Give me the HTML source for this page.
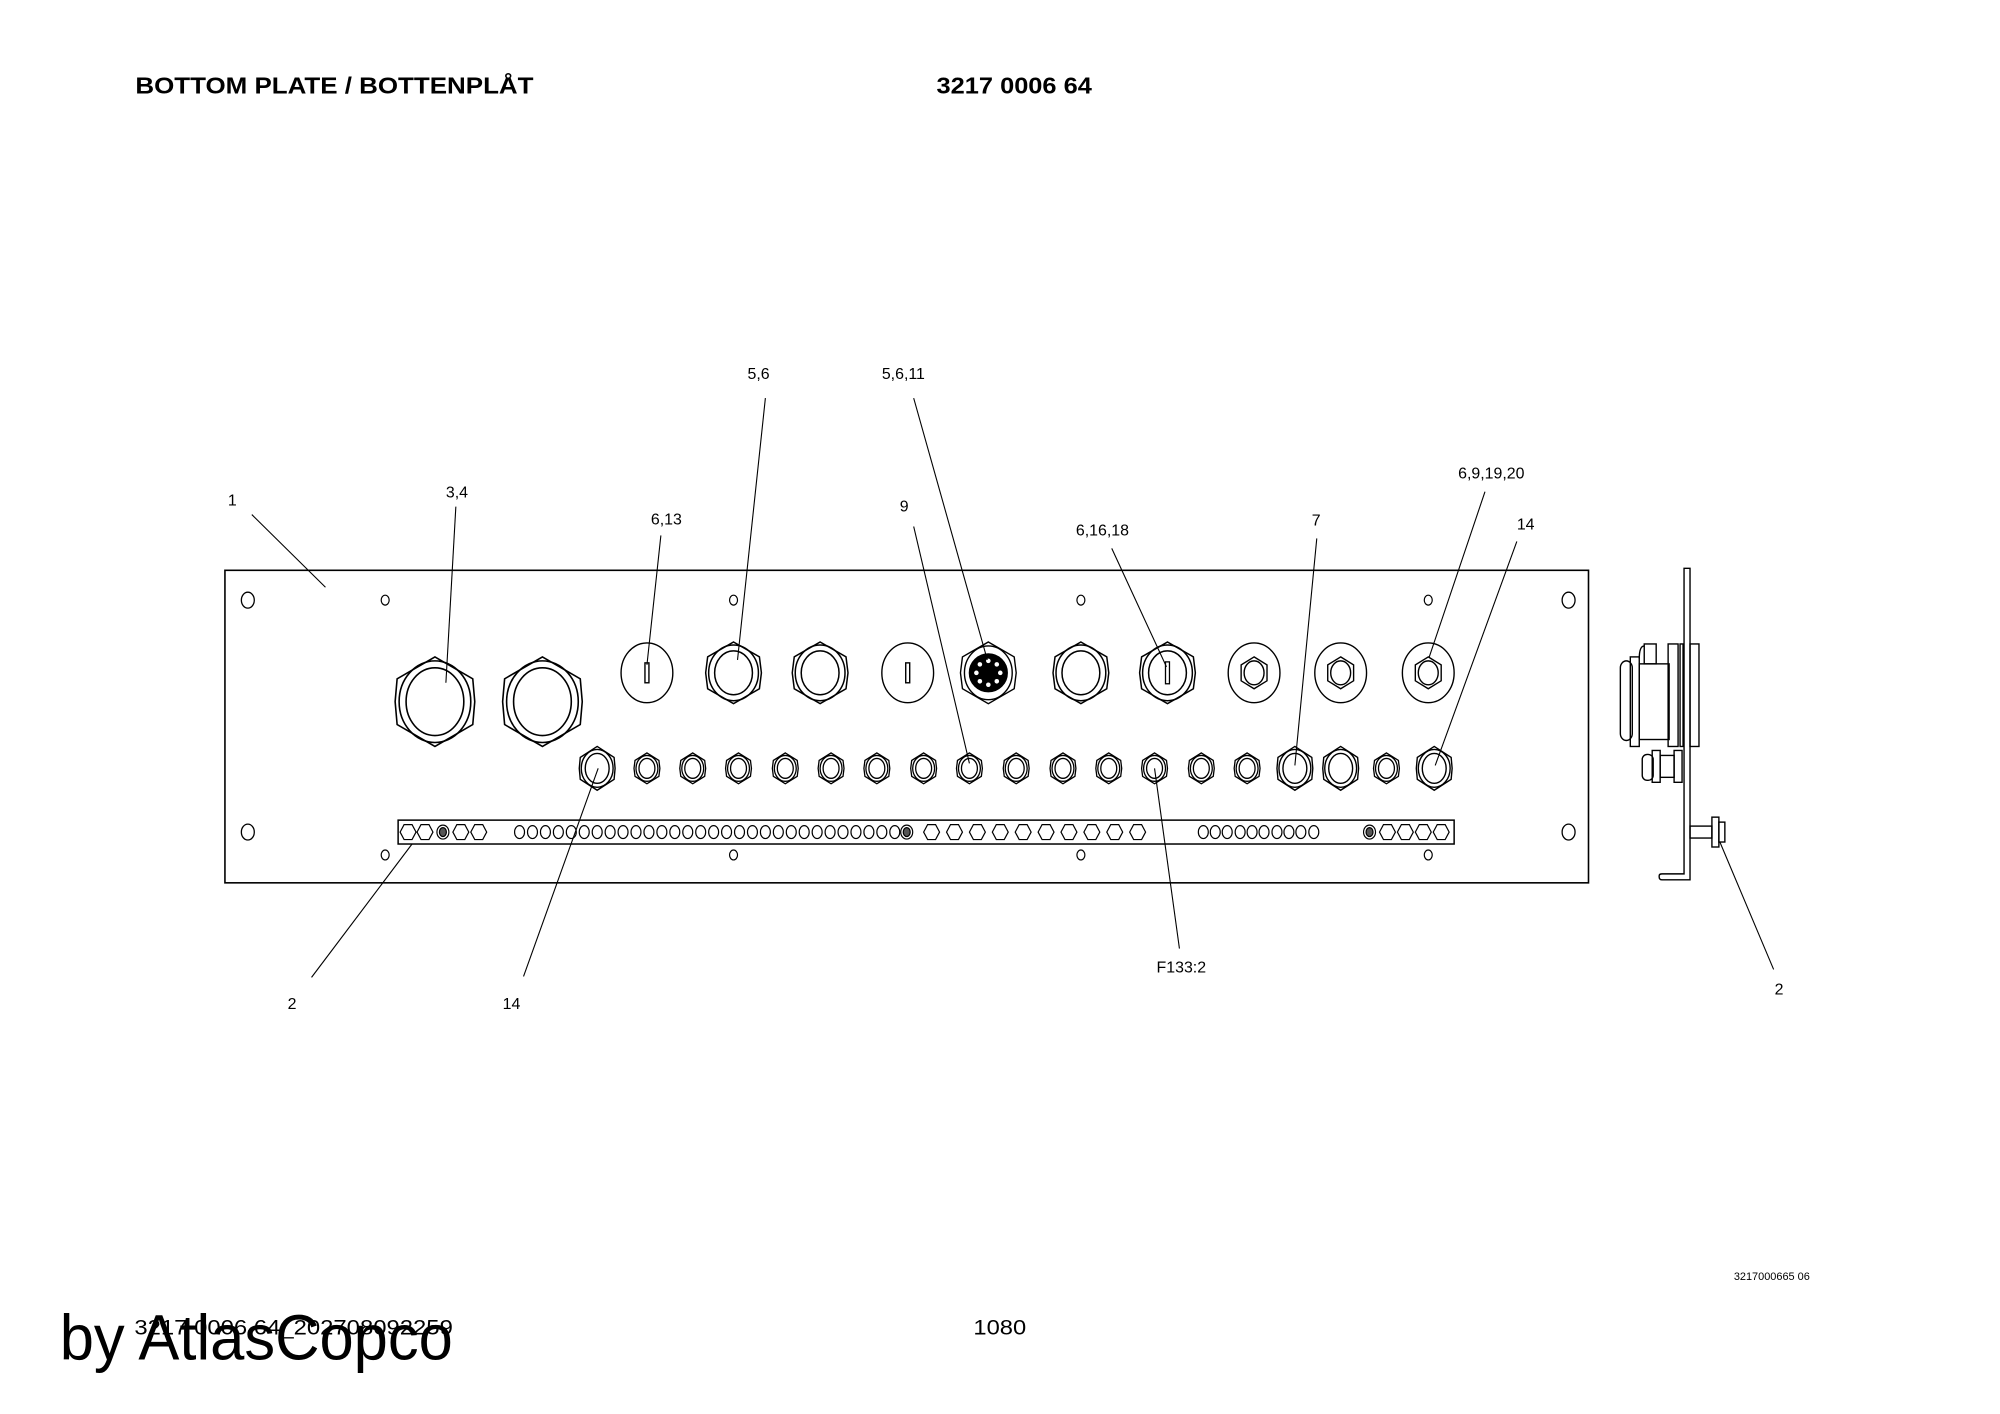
<!DOCTYPE html>
<html><head><meta charset="utf-8"><style>
html,body{margin:0;padding:0;background:#fff;}
svg{display:block;}
text{font-family:"Liberation Sans",Arial,sans-serif;fill:#000;}
</style></head><body>
<svg width="2000" height="1414" viewBox="0 0 2000 1414" xmlns="http://www.w3.org/2000/svg">
<defs>
<g id="gBig" fill="none" stroke="#000" stroke-width="1.6">
<path d="M0,-45 L38,-23 L40,0 L38,23 L0,45 L-38,23 L-40,0 L-38,-23 Z"/>
<ellipse rx="36" ry="41"/><ellipse rx="29" ry="34"/>
</g>
<g id="gMed" fill="none" stroke="#000" stroke-width="1.5">
<path d="M0,-31 L26,-16 L28,0 L26,16 L0,31 L-26,16 L-28,0 L-26,-16 Z"/>
<ellipse rx="25" ry="28"/><ellipse rx="19" ry="22"/>
</g>
<g id="gS" fill="none" stroke="#000" stroke-width="1.3">
<path d="M0,-15.5 L12,-8 L13,0 L12,8 L0,15.5 L-12,8 L-13,0 L-12,-8 Z"/>
<ellipse rx="11" ry="13"/><ellipse rx="8" ry="10"/>
</g>
<g id="gM2" fill="none" stroke="#000" stroke-width="1.4">
<path d="M0,-22 L17,-11 L18,0 L17,11 L0,22 L-17,11 L-18,0 L-17,-11 Z"/>
<ellipse rx="16" ry="19"/><ellipse rx="12" ry="15"/>
</g>
<g id="washer" fill="none" stroke="#000" stroke-width="1.4">
<ellipse rx="26" ry="30"/>
<path d="M0,-16 L13,-8 L13,8 L0,16 L-13,8 L-13,-8 Z"/>
<ellipse rx="10" ry="12"/>
</g>
<g id="blank" fill="none" stroke="#000" stroke-width="1.4">
<ellipse rx="26" ry="30"/><rect x="-2" y="-10" width="4" height="20"/>
</g>
<g id="hole" fill="none" stroke="#000" stroke-width="1.3"><ellipse rx="6.5" ry="8"/></g>
<g id="sh" fill="none" stroke="#000" stroke-width="1.2"><ellipse rx="4" ry="5"/></g>
<g id="tc" fill="none" stroke="#000" stroke-width="1.2"><ellipse rx="5" ry="6.5"/></g>
<g id="th" fill="none" stroke="#000" stroke-width="1.2"><path d="M-4,-7.5 L4,-7.5 L8,0 L4,7.5 L-4,7.5 L-8,0 Z"/></g>
<g id="tdark" stroke="#000" stroke-width="1.2"><ellipse rx="6" ry="7" fill="none"/><ellipse rx="3.5" ry="4.5" fill="#555"/></g>
</defs>

<g transform="scale(0.9953)">
<text x="136" y="94" font-size="23" font-weight="bold" textLength="400" lengthAdjust="spacingAndGlyphs">BOTTOM PLATE / BOTTENPLÅT</text>
<text x="941" y="94" font-size="23" font-weight="bold" textLength="156" lengthAdjust="spacingAndGlyphs">3217 0006 64</text>

<rect x="226" y="573" width="1370" height="314" fill="none" stroke="#000" stroke-width="1.6"/>
<use href="#hole" x="249" y="603"/><use href="#hole" x="1576" y="603"/>
<use href="#hole" x="249" y="836"/><use href="#hole" x="1576" y="836"/>
<use href="#sh" x="387" y="603"/><use href="#sh" x="737" y="603"/><use href="#sh" x="1086" y="603"/><use href="#sh" x="1435" y="603"/>
<use href="#sh" x="387" y="859"/><use href="#sh" x="737" y="859"/><use href="#sh" x="1086" y="859"/><use href="#sh" x="1435" y="859"/>

<use href="#gBig" x="437" y="705"/><use href="#gBig" x="545" y="705"/>

<use href="#blank" x="650" y="676"/>
<use href="#gMed" x="737" y="676"/>
<use href="#gMed" x="824" y="676"/>
<use href="#blank" x="912" y="676"/>
<g transform="translate(993,676)" stroke="#000" stroke-width="1.4" fill="none">
<path d="M0,-31 L26,-16 L28,0 L26,16 L0,31 L-26,16 L-28,0 L-26,-16 Z"/><ellipse rx="24" ry="27"/>
<circle r="19" fill="#000"/>
<g fill="#fff" stroke="none"><circle cx="0" cy="-12" r="2.3"/><circle cx="8.5" cy="-8.5" r="2.3"/><circle cx="12" cy="0" r="2.3"/><circle cx="8.5" cy="8.5" r="2.3"/><circle cx="0" cy="12" r="2.3"/><circle cx="-8.5" cy="8.5" r="2.3"/><circle cx="-12" cy="0" r="2.3"/><circle cx="-8.5" cy="-8.5" r="2.3"/></g>
</g>
<use href="#gMed" x="1086" y="676"/>
<use href="#gMed" x="1173" y="676"/>
<rect x="1171" y="665" width="4" height="22" fill="none" stroke="#000" stroke-width="1.3"/>
<use href="#washer" x="1260" y="676"/>
<use href="#washer" x="1347" y="676"/>
<use href="#washer" x="1435" y="676"/>

<use href="#gM2" x="600" y="772"/>
<use href="#gS" x="650" y="772"/><use href="#gS" x="696" y="772"/><use href="#gS" x="742" y="772"/><use href="#gS" x="789" y="772"/>
<use href="#gS" x="835" y="772"/><use href="#gS" x="881" y="772"/><use href="#gS" x="928" y="772"/><use href="#gS" x="974" y="772"/>
<use href="#gS" x="1021" y="772"/><use href="#gS" x="1068" y="772"/><use href="#gS" x="1114" y="772"/><use href="#gS" x="1160" y="772"/>
<use href="#gS" x="1207" y="772"/><use href="#gS" x="1253" y="772"/>
<use href="#gM2" x="1301" y="772"/><use href="#gM2" x="1347" y="772"/>
<use href="#gS" x="1393" y="772"/><use href="#gM2" x="1441" y="772"/>

<rect x="400" y="824" width="1061" height="24" fill="none" stroke="#000" stroke-width="1.5"/>
<use href="#th" x="410" y="836"/><use href="#th" x="427" y="836"/><use href="#tdark" x="445" y="836"/><use href="#th" x="463" y="836"/><use href="#th" x="481" y="836"/>
<use href="#tc" x="522" y="836"/><use href="#tc" x="535" y="836"/><use href="#tc" x="548" y="836"/><use href="#tc" x="561" y="836"/><use href="#tc" x="574" y="836"/><use href="#tc" x="587" y="836"/><use href="#tc" x="600" y="836"/><use href="#tc" x="613" y="836"/><use href="#tc" x="626" y="836"/><use href="#tc" x="639" y="836"/><use href="#tc" x="652" y="836"/><use href="#tc" x="665" y="836"/><use href="#tc" x="678" y="836"/><use href="#tc" x="691" y="836"/><use href="#tc" x="704" y="836"/><use href="#tc" x="717" y="836"/><use href="#tc" x="730" y="836"/><use href="#tc" x="743" y="836"/><use href="#tc" x="756" y="836"/><use href="#tc" x="769" y="836"/><use href="#tc" x="782" y="836"/><use href="#tc" x="795" y="836"/><use href="#tc" x="808" y="836"/><use href="#tc" x="821" y="836"/><use href="#tc" x="834" y="836"/><use href="#tc" x="847" y="836"/><use href="#tc" x="860" y="836"/><use href="#tc" x="873" y="836"/><use href="#tc" x="886" y="836"/><use href="#tc" x="899" y="836"/>
<use href="#tdark" x="911" y="836"/>
<use href="#th" x="936" y="836"/><use href="#th" x="959" y="836"/><use href="#th" x="982" y="836"/><use href="#th" x="1005" y="836"/><use href="#th" x="1028" y="836"/><use href="#th" x="1051" y="836"/><use href="#th" x="1074" y="836"/><use href="#th" x="1097" y="836"/><use href="#th" x="1120" y="836"/><use href="#th" x="1143" y="836"/>
<use href="#tc" x="1209" y="836"/><use href="#tc" x="1221" y="836"/><use href="#tc" x="1233" y="836"/><use href="#tc" x="1246" y="836"/><use href="#tc" x="1258" y="836"/><use href="#tc" x="1270" y="836"/><use href="#tc" x="1283" y="836"/><use href="#tc" x="1295" y="836"/><use href="#tc" x="1307" y="836"/><use href="#tc" x="1320" y="836"/>
<use href="#tdark" x="1376" y="836"/><use href="#th" x="1394" y="836"/><use href="#th" x="1412" y="836"/><use href="#th" x="1430" y="836"/><use href="#th" x="1448" y="836"/>

<!-- side view -->
<g fill="none" stroke="#000" stroke-width="1.4">
<path d="M1692,571 L1698,571 L1698,884 L1670,884 Q1667,884 1667,881 L1667,880 Q1667,878 1670,878 L1692,878 Z"/>
<rect x="1628" y="664" width="12" height="80" rx="7"/>
<rect x="1638" y="660" width="9" height="90"/>
<rect x="1647" y="667" width="30" height="76"/>
<rect x="1676" y="647" width="10" height="103"/>
<rect x="1688" y="647" width="3" height="103"/>
<rect x="1698" y="647" width="9" height="103"/>
<rect x="1652" y="647" width="12" height="20"/>
<path d="M1647,662 Q1647,649 1652,649"/>
<rect x="1650" y="758" width="11" height="26" rx="5"/>
<rect x="1660" y="754" width="8" height="32"/>
<rect x="1668" y="759" width="14" height="22"/>
<rect x="1682" y="754" width="8" height="32"/>
<rect x="1698" y="830" width="22" height="12"/>
<rect x="1720" y="821" width="7" height="30"/>
<rect x="1727" y="826" width="6" height="20"/>
</g>

<g stroke="#000" stroke-width="1.1">
<line x1="253" y1="517" x2="327" y2="590"/>
<line x1="458" y1="509" x2="448" y2="686"/>
<line x1="664" y1="538" x2="650" y2="668"/>
<line x1="769" y1="400" x2="741" y2="663"/>
<line x1="918" y1="400" x2="992" y2="663"/>
<line x1="918" y1="529" x2="974" y2="767"/>
<line x1="1117" y1="551" x2="1172" y2="670"/>
<line x1="1323" y1="541" x2="1301" y2="769"/>
<line x1="1492" y1="494" x2="1436" y2="660"/>
<line x1="1524" y1="544" x2="1442" y2="769"/>
<line x1="313" y1="982" x2="414" y2="848"/>
<line x1="526" y1="981" x2="601" y2="772"/>
<line x1="1185" y1="953" x2="1160" y2="772"/>
<line x1="1782" y1="974" x2="1728" y2="846"/>
</g>

<g font-size="16">
<text x="229" y="508">1</text>
<text x="448" y="500">3,4</text>
<text x="654" y="527">6,13</text>
<text x="751" y="381">5,6</text>
<text x="886" y="381">5,6,11</text>
<text x="904" y="514">9</text>
<text x="1081" y="538">6,16,18</text>
<text x="1318" y="528">7</text>
<text x="1465" y="481">6,9,19,20</text>
<text x="1524" y="532">14</text>
<text x="289" y="1014">2</text>
<text x="505" y="1014">14</text>
<text x="1162" y="977">F133:2</text>
<text x="1783" y="999">2</text>
</g>
<text x="1742" y="1286" font-size="11">3217000665 06</text>

<text x="135" y="1341" font-size="21" textLength="320" lengthAdjust="spacingAndGlyphs">3217 0006 64_202708092259</text>
<text x="978" y="1341" font-size="21" textLength="53" lengthAdjust="spacingAndGlyphs">1080</text>
<text x="60" y="1366" font-size="64" textLength="395" lengthAdjust="spacingAndGlyphs">by AtlasCopco</text>
</g>
</svg>
</body></html>
